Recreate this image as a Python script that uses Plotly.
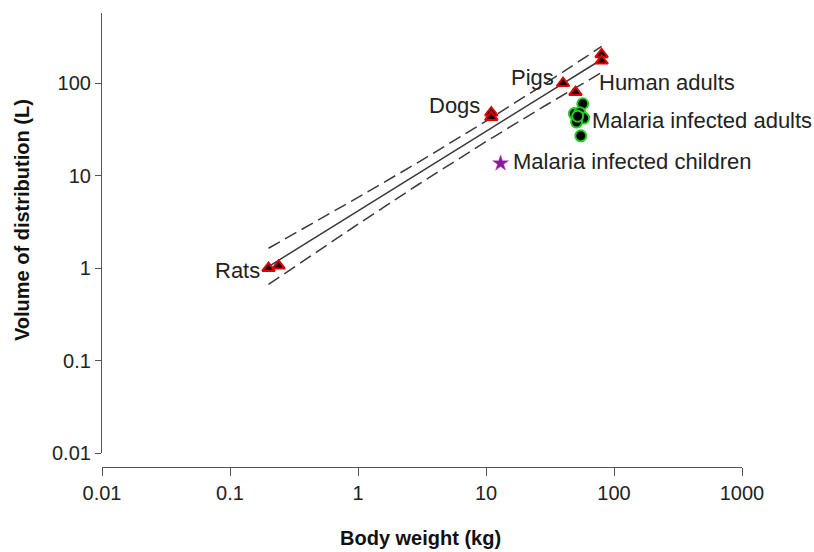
import numpy as np
import plotly.graph_objects as go

# ---- data ----
rats_w = [0.20, 0.24]
rats_v = [1.0, 1.06]
dogs_w = [11, 11]
dogs_v = [48, 43]
pigs_w = [40]
pigs_v = [100]
human_w = [50, 80, 80]
human_v = [80, 205, 175]
mal_adult_w = [57, 49, 54, 58, 51, 55, 52]
mal_adult_v = [60, 47, 48, 42, 38, 27, 44]
mal_child_w = [13]
mal_child_v = [13.6]

fit_w = [0.2, 0.5, 1, 3, 10, 30, 80]
fit_v = [1.04, 2.30, 4.17, 10.7, 30.2, 77.6, 180.7]
upper_v = [1.64, 3.36, 5.82, 14.1, 38.9, 102, 250]
lower_v = [0.667, 1.57, 2.99, 8.13, 23.4, 58.9, 130.6]

x_ticks = [0.01, 0.1, 1, 10, 100, 1000]
x_ticklabels = ["0.01", "0.1", "1", "10", "100", "1000"]
y_ticks = [0.01, 0.1, 1, 10, 100]
y_ticklabels = ["0.01", "0.1", "1", "10", "100"]

FONT = "Arial, Liberation Sans, sans-serif"
LINE_C = "#3a3a3a"

fig = go.Figure()
fig.add_trace(go.Scatter(x=fit_w, y=upper_v, mode="lines",
                         line=dict(color=LINE_C, width=1.5, dash="13px,6px")))
fig.add_trace(go.Scatter(x=fit_w, y=fit_v, mode="lines",
                         line=dict(color=LINE_C, width=1.5)))
fig.add_trace(go.Scatter(x=fit_w, y=lower_v, mode="lines",
                         line=dict(color=LINE_C, width=1.5, dash="13px,6px")))

tri = dict(symbol="triangle-up", size=11, color="#1a0000",
           line=dict(color="#e00000", width=2))
for xs, ys in [(rats_w, rats_v), (dogs_w, dogs_v), (pigs_w, pigs_v), (human_w, human_v)]:
    fig.add_trace(go.Scatter(x=xs, y=ys, mode="markers", marker=tri))

fig.add_trace(go.Scatter(x=mal_adult_w, y=mal_adult_v, mode="markers",
                         marker=dict(symbol="circle", size=11, color="black",
                                     line=dict(color="#22cc22", width=2))))
fig.add_trace(go.Scatter(x=mal_child_w, y=mal_child_v, mode="markers",
                         marker=dict(symbol="star", size=12, color="#8a1a9a",
                                     line=dict(color="#b040c0", width=0.5))))

labels = [
    ("Rats", 0.178, 0.95, "right"),
    ("Dogs", 9.3, 57.7, "right"),
    ("Pigs", 35.3, 116, "right"),
    ("Human adults", 73.6, 103, "left"),
    ("Malaria infected adults", 65, 39.6, "left"),
    ("Malaria infected children", 15.7, 14.2, "left"),
]
annots = []
for txt, xv, yv, anc in labels:
    annots.append(dict(x=np.log10(xv), y=np.log10(yv), xref="x", yref="y", text=txt,
                       showarrow=False, xanchor=anc, yanchor="middle",
                       font=dict(family=FONT, size=22, color="#222")))
annots.append(dict(x=0.497, y=-0.156, xref="paper", yref="paper",
                   text="<b>Body weight (kg)</b>", showarrow=False,
                   xanchor="center", yanchor="middle",
                   font=dict(family=FONT, size=20, color="#111")))
annots.append(dict(x=-0.125, y=0.544, xref="paper", yref="paper",
                   text="<b>Volume of distribution (L)</b>", textangle=-90,
                   showarrow=False, xanchor="center", yanchor="middle",
                   font=dict(family=FONT, size=20, color="#111")))

fig.update_layout(
    width=814, height=552,
    margin=dict(l=102, r=72, t=13, b=85),
    paper_bgcolor="white", plot_bgcolor="white",
    showlegend=False,
    font=dict(family=FONT, size=19, color="#222"),
    annotations=annots,
)
fig.update_xaxes(type="log", range=[-2, 3], tickvals=x_ticks, ticktext=x_ticklabels,
                 ticks="outside", ticklen=8, tickcolor="#555", linecolor="#555",
                 showline=True, linewidth=1.2, showgrid=False, zeroline=False,
                 anchor="free", position=0, tickfont=dict(size=20, color="#222"))
fig.update_yaxes(type="log", range=[-2, 2.76], tickvals=y_ticks, ticktext=y_ticklabels,
                 domain=[14 / 454, 1],
                 ticks="outside", ticklen=6, tickcolor="#555", linecolor="#555",
                 showline=True, linewidth=1.2, showgrid=False, zeroline=False,
                 tickfont=dict(size=20, color="#222"))

fig.write_html("out.html")
